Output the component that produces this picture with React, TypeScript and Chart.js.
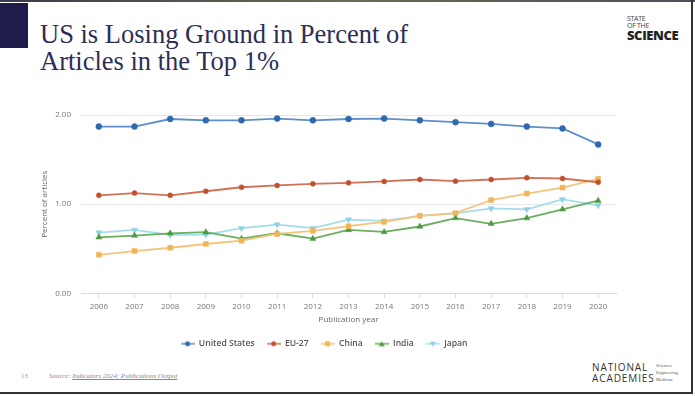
import React, { useEffect, useRef } from "react";
import { Chart, registerables } from "chart.js";
Chart.register(...registerables);

const years = ["2006", "2007", "2008", "2009", "2010", "2011", "2012", "2013", "2014", "2015", "2016", "2017", "2018", "2019", "2020"];
const unitedStates = [1.87, 1.87, 1.955, 1.94, 1.94, 1.96, 1.94, 1.955, 1.96, 1.94, 1.92, 1.9, 1.87, 1.85, 1.67];
const eu27 = [1.1, 1.125, 1.1, 1.145, 1.19, 1.21, 1.228, 1.24, 1.255, 1.277, 1.258, 1.277, 1.296, 1.288, 1.246];
const china = [0.433, 0.475, 0.512, 0.554, 0.591, 0.667, 0.7, 0.753, 0.802, 0.87, 0.9, 1.047, 1.119, 1.186, 1.285];
const india = [0.629, 0.648, 0.674, 0.686, 0.614, 0.674, 0.614, 0.712, 0.689, 0.75, 0.844, 0.78, 0.844, 0.942, 1.04];
const japan = [0.682, 0.712, 0.655, 0.659, 0.731, 0.772, 0.731, 0.828, 0.814, 0.87, 0.896, 0.953, 0.942, 1.054, 0.987];
const seriesNames = ["United States", "EU-27", "China", "India", "Japan"];
const yMin = 0;
const yMax = 2;
const yStep = 1;

const colors = ["#2f68ad", "#c4502b", "#f2b457", "#4c9a3f", "#8ed2e4"];
const lineColors = ["#5f8fca", "#d07257", "#f5c47c", "#6aae5e", "#a5dcea"];
const styles = ["circle", "circle", "rect", "triangle", "triangle"];
const rotations = [0, 0, 0, 0, 180];
const radii = [3, 2.5, 3.5, 3.5, 3.5];

function legendIcon(i: number): HTMLCanvasElement {
  const c = document.createElement("canvas");
  c.width = 14;
  c.height = 8;
  const ctx = c.getContext("2d")!;
  ctx.strokeStyle = lineColors[i];
  ctx.lineWidth = 1.5;
  ctx.beginPath();
  ctx.moveTo(0, 4);
  ctx.lineTo(14, 4);
  ctx.stroke();
  ctx.fillStyle = colors[i];
  const s = styles[i];
  if (s === "circle") {
    ctx.beginPath();
    ctx.arc(7, 4, 2.5, 0, Math.PI * 2);
    ctx.fill();
  } else if (s === "rect") {
    ctx.fillRect(4.5, 1.5, 5, 5);
  } else {
    ctx.beginPath();
    if (rotations[i] === 180) {
      ctx.moveTo(4, 2);
      ctx.lineTo(10, 2);
      ctx.lineTo(7, 7);
    } else {
      ctx.moveTo(4, 6.5);
      ctx.lineTo(10, 6.5);
      ctx.lineTo(7, 1.5);
    }
    ctx.closePath();
    ctx.fill();
  }
  return c;
}

export default function App() {
  const ref = useRef<HTMLCanvasElement>(null);
  useEffect(() => {
    if (!ref.current) return;
    const data = [unitedStates, eu27, china, india, japan];
    const icons = seriesNames.map((_, i) => legendIcon(i));
    const chart = new Chart(ref.current, {
      type: "line",
      data: {
        labels: years,
        datasets: data.map((d, i) => ({
          label: seriesNames[i],
          data: d,
          borderColor: lineColors[i],
          backgroundColor: colors[i],
          pointBackgroundColor: colors[i],
          pointBorderColor: colors[i],
          borderWidth: 1.8,
          pointStyle: styles[i] as any,
          rotation: rotations[i],
          pointRadius: radii[i],
          pointBorderWidth: 0.5,
          tension: 0,
        })),
      },
      options: {
        responsive: false,
        animation: false,
        layout: { padding: { top: 15, right: 14, left: 12, bottom: 0 } },
        plugins: {
          tooltip: { enabled: false },
          legend: {
            position: "bottom",
            labels: {
              usePointStyle: true,
              pointStyleWidth: 14,
              padding: 12,
              color: "#555",
              font: { family: "'Open Sans'", size: 8.6, weight: "600" as any },
              generateLabels: (c: any) => {
                const items = Chart.defaults.plugins.legend.labels.generateLabels(c);
                return items.map((it: any, i: number) => ({ ...it, pointStyle: icons[i], rotation: 0 }));
              },
            },
          },
        },
        scales: {
          x: {
            offset: true,
            grid: { display: true, drawOnChartArea: false, drawTicks: true, tickLength: 5, color: "#d3dbe5" },
            border: { display: true, color: "#d3dbe5" },
            ticks: { color: "#777", font: { family: "'Open Sans'", size: 8 }, padding: 4, maxRotation: 0 },
            title: { display: true, text: "Publication year", color: "#666", font: { family: "'Open Sans'", size: 8 }, padding: { top: 4, bottom: 3 } },
            afterFit: (s: any) => { s.height = 34; },
          },
          y: {
            min: yMin,
            max: yMax,
            grid: { color: "#e8e8e8", drawTicks: false },
            border: { display: false },
            ticks: { stepSize: yStep, color: "#777", font: { family: "'Open Sans'", size: 8 }, padding: 10, callback: (v: any) => Number(v).toFixed(2) },
            title: { display: true, text: "Percent of articles", color: "#666", font: { family: "'Open Sans'", size: 8 }, padding: { top: 8, bottom: 0 } },
            afterFit: (s: any) => { s.width = 49; },
          },
        },
      },
    });
    return () => chart.destroy();
  }, []);

  return (
    <div style={{ position: "fixed", left: 0, top: 0, width: 695, height: 396, background: "#fff", overflow: "hidden" }}>
      <div style={{ position: "absolute", left: 0, top: 0, width: 695, height: 2, background: "linear-gradient(90deg,#3a3a4a,#6b6b55,#4b4f5a)" }} />
      <div style={{ position: "absolute", left: 0, top: 3, width: 28, height: 45, background: "#1f1c4c" }} />
      <div style={{ position: "absolute", left: 691, top: 0, width: 2, height: 394, background: "#333" }} />
      <div style={{ position: "absolute", left: 0, top: 392, width: 693, height: 2, background: "#333" }} />
      <div style={{ position: "absolute", left: 40, top: 21, fontFamily: "'Liberation Serif', serif", fontSize: 26.5, lineHeight: "27px", color: "#2c2e55", whiteSpace: "nowrap" }}>
        US is Losing Ground in Percent of<br />Articles in the Top 1%
      </div>
      <div style={{ position: "absolute", left: 627, top: 15, fontFamily: "'Open Sans', sans-serif", color: "#222", lineHeight: 1 }}>
        <div style={{ fontSize: 7, color: "#444", letterSpacing: -0.3 }}>STATE</div>
        <div style={{ fontSize: 7, color: "#444", letterSpacing: -0.3 }}>OF THE</div>
        <div style={{ fontSize: 13, fontWeight: 800, letterSpacing: -0.4, lineHeight: "12px" }}>SCIENCE</div>
      </div>
      <canvas ref={ref} width={610} height={258} style={{ position: "absolute", left: 20, top: 100, width: 610, height: 258 }} />
      <div style={{ position: "absolute", left: 21, top: 372, fontFamily: "'Liberation Serif', serif", fontSize: 7, color: "#999" }}>13</div>
      <div style={{ position: "absolute", left: 49, top: 372, fontFamily: "'Liberation Serif', serif", fontStyle: "italic", fontSize: 7, color: "#888", whiteSpace: "nowrap" }}>
        Source: <span style={{ textDecoration: "underline" }}>Indicators 2024: Publications Output</span>
      </div>
      <div style={{ position: "absolute", left: 592, top: 362, fontFamily: "'Open Sans', sans-serif", fontSize: 10, letterSpacing: 0.9, color: "#333", lineHeight: "11px" }}>
        NATIONAL<br />ACADEMIES
      </div>
      <div style={{ position: "absolute", left: 656, top: 362, fontFamily: "'Liberation Serif', serif", fontSize: 4.5, color: "#555", lineHeight: "7px" }}>
        Sciences<br />Engineering<br />Medicine
      </div>
    </div>
  );
}
